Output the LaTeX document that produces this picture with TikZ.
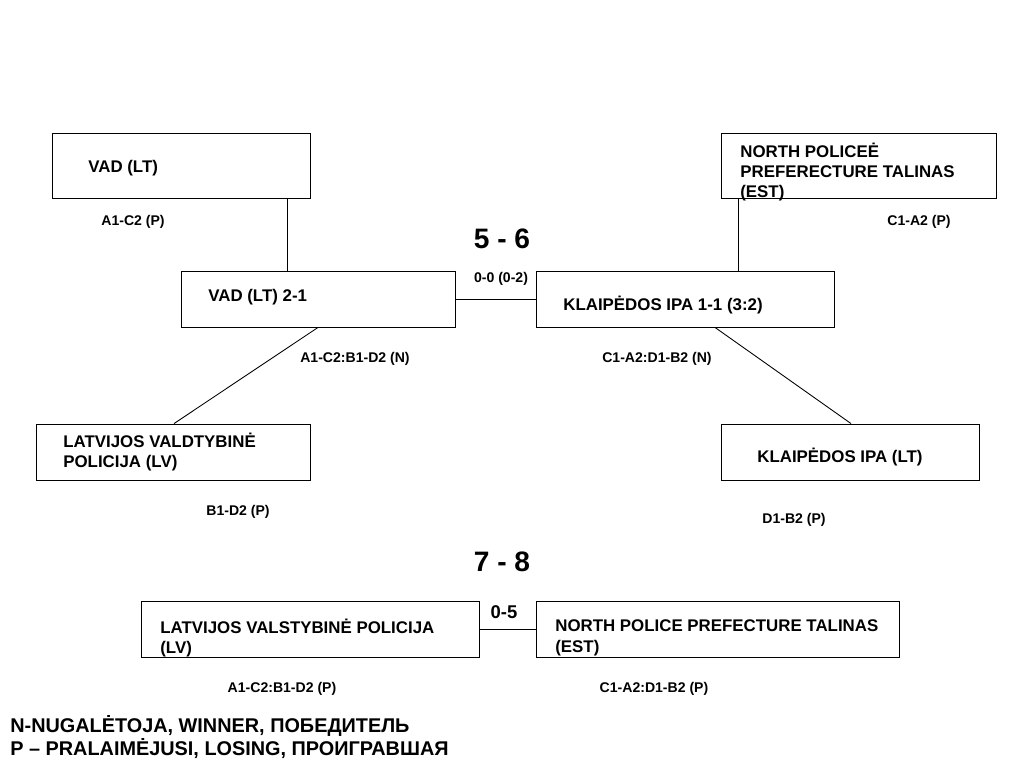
\documentclass[tikz,border=0pt]{standalone}
\usepackage{fontspec}
\setmainfont{Liberation Sans}

\begin{document}
\begin{tikzpicture}[x=0.02cm, y=-0.02cm,
  box/.style={draw, line width=0.5pt, inner sep=0pt},
  team/.style={font=\bfseries\fontsize{9.6}{11.6}\selectfont, anchor=west, align=left, inner sep=0pt},
  res/.style={font=\bfseries\fontsize{8}{9}\selectfont, inner sep=0pt},
  place/.style={font=\bfseries\fontsize{16}{18}\selectfont, inner sep=0pt},
  wire/.style={line width=0.5pt}]
  \useasboundingbox (0,0) rectangle (1024,768);

  % boxes (empty frames, text set beside them)
  \node[box, minimum width=258*0.02cm, minimum height=65*0.02cm] (vad) at (181,165.5) {};
  \node[box, minimum width=275*0.02cm, minimum height=65*0.02cm] (npp) at (858.5,165.5) {};
  \node[box, minimum width=274*0.02cm, minimum height=56*0.02cm] (vadf) at (318,299) {};
  \node[box, minimum width=298*0.02cm, minimum height=56*0.02cm] (kipaf) at (685,299) {};
  \node[box, minimum width=274*0.02cm, minimum height=56*0.02cm] (lvp) at (173,452) {};
  \node[box, minimum width=258*0.02cm, minimum height=56*0.02cm] (kipa) at (850,452) {};
  \node[box, minimum width=338*0.02cm, minimum height=56*0.02cm] (lvs) at (310,629) {};
  \node[box, minimum width=363*0.02cm, minimum height=56*0.02cm] (npt) at (717.5,629) {};

  % team names
  \node[team] (tvad) at (88,168) {VAD (LT)};
  \node[team] (tnpp) at (740,172) {NORTH POLICEĖ\\PREFERECTURE TALINAS\\(EST)};
  \node[team] (tvadf) at (208,297) {VAD (LT) 2-1};
  \node[team] (tkipaf) at (563,305) {KLAIPĖDOS IPA 1-1 (3:2)};
  \node[team] (tlvp) at (63,452) {LATVIJOS VALDTYBINĖ\\POLICIJA (LV)};
  \node[team] (tkipa) at (757,457) {KLAIPĖDOS IPA (LT)};
  \node[team] (tlvs) at (160,638) {LATVIJOS VALSTYBINĖ POLICIJA\\(LV)};
  \node[team] (tnpt) at (555,638) {NORTH POLICE PREFECTURE TALINAS\\(EST)};

  % connectors
  \draw[wire] (vad.south -| 287,0) -- (vadf.north -| 287,0);
  \draw[wire] (npp.south -| 738,0) -- (kipaf.north -| 738,0);
  \draw[wire] (vadf.east) -- (kipaf.west);
  \draw[wire] (vadf.south -| 318,0) -- (lvp.north -| 174,0);
  \draw[wire] (kipaf.south -| 715,0) -- (kipa.north -| 851,0);
  \draw[wire] (lvs.east) -- (npt.west);

  % results
  \node[res] (r1) at (133,222) {A1-C2 (P)};
  \node[res] (r2) at (919,222) {C1-A2 (P)};
  \node[res] (r3) at (501,279) {0-0 (0-2)};
  \node[res] (r4) at (355,359) {A1-C2:B1-D2 (N)};
  \node[res] (r5) at (657,359) {C1-A2:D1-B2 (N)};
  \node[res] (r6) at (238,512) {B1-D2 (P)};
  \node[res] (r7) at (794,520) {D1-B2 (P)};
  \node[res] (r8) at (282,689) {A1-C2:B1-D2 (P)};
  \node[res] (r9) at (654,689) {C1-A2:D1-B2 (P)};
  \node[font=\bfseries\fontsize{10.5}{12}\selectfont, inner sep=0pt] (r10) at (504,612) {0-5};

  % places
  \node[place] (p56) at (502,239) {5 - 6};
  \node[place] (p78) at (502,562) {7 - 8};

  % legend
  \node[font=\bfseries\fontsize{11.3}{13.6}\selectfont, anchor=west, align=left, inner sep=0pt] (legend) at (10,737)
    {N-NUGALĖTOJA, WINNER, ПОБЕДИТЕЛЬ\\P – PRALAIMĖJUSI, LOSING, ПРОИГРАВШАЯ};
\end{tikzpicture}
\end{document}
